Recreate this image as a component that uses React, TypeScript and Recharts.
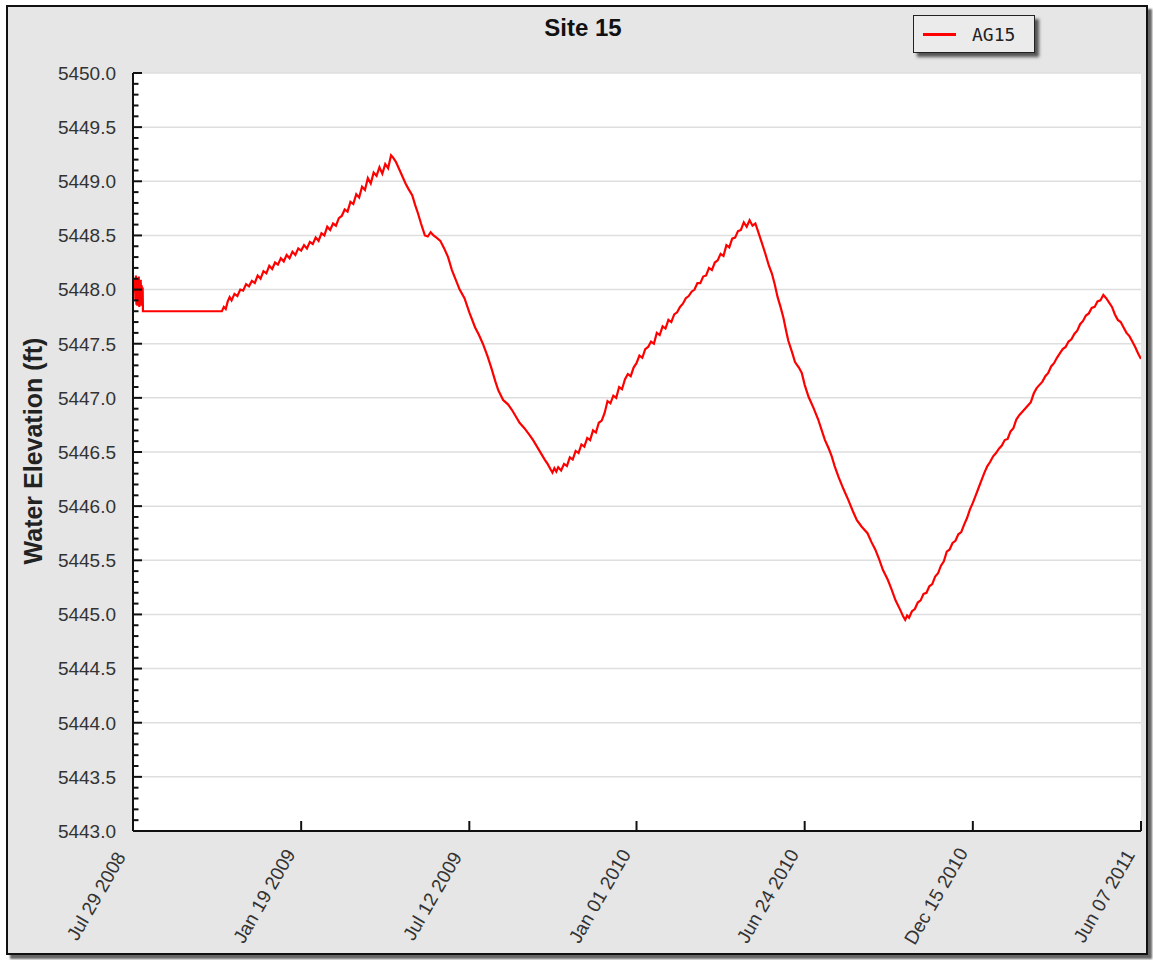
import React from "react";
import { LineChart, Line, XAxis, YAxis, CartesianGrid } from "recharts";

// Day offsets from Jul 29 2008 for the date ticks on the x axis
const tickDays = [0, 174, 348, 521, 695, 869, 1043];
const tickLabels = [
  "Jul 29 2008",
  "Jan 19 2009",
  "Jul 12 2009",
  "Jan 01 2010",
  "Jun 24 2010",
  "Dec 15 2010",
  "Jun 07 2011",
];

// Elevation axis: labelled every 0.5 ft, minor ticks every 0.1 ft
const majorLevels = [
  5443, 5443.5, 5444, 5444.5, 5445, 5445.5, 5446, 5446.5, 5447, 5447.5, 5448,
  5448.5, 5449, 5449.5, 5450,
];
const levelTicks = Array.from({ length: 71 }, (_, i) => Math.round((5443 + i * 0.1) * 10) / 10);

// AG15 logger readings: [days since Jul 29 2008, water elevation ft]
const startBurst: [number, number][] = [
  [0, 5448.03], [0.5, 5447.98], [1, 5448.05], [1.5, 5447.99], [2, 5448.1],
  [2.5, 5447.9], [3, 5448.13], [3.5, 5447.86], [4, 5448.11], [4.5, 5447.85],
  [5, 5448.08], [5.5, 5447.88], [6, 5448.12], [6.5, 5447.84], [7, 5448.06],
  [7.5, 5447.86], [8, 5448.09], [8.5, 5447.85], [9, 5448.04], [9.5, 5447.87],
  [10, 5448.02], [10.3, 5447.8], [92, 5447.8],
];

const rise2009: [number, number][] = [
  [94, 5447.84], [96, 5447.82], [98, 5447.89], [100, 5447.93], [102, 5447.9],
  [105, 5447.96], [108, 5447.94], [111, 5448.0], [114, 5447.99], [117, 5448.05],
  [120, 5448.03], [123, 5448.08], [126, 5448.06], [129, 5448.13], [132, 5448.1],
  [135, 5448.17], [138, 5448.15], [141, 5448.22], [144, 5448.19], [147, 5448.25],
  [150, 5448.23], [153, 5448.29], [156, 5448.26], [159, 5448.32], [162, 5448.29],
  [165, 5448.35], [168, 5448.32], [171, 5448.38], [174, 5448.36], [177, 5448.41],
  [180, 5448.38], [183, 5448.44], [186, 5448.42], [189, 5448.48], [192, 5448.45],
  [195, 5448.52], [198, 5448.5], [201, 5448.58], [204, 5448.55], [207, 5448.61],
  [210, 5448.59], [213, 5448.66], [216, 5448.68], [219, 5448.74], [222, 5448.72],
  [225, 5448.81], [228, 5448.79], [231, 5448.88], [234, 5448.85], [237, 5448.95],
  [240, 5448.92], [243, 5449.03], [246, 5448.98], [249, 5449.08], [252, 5449.05],
  [255, 5449.13], [258, 5449.07], [261, 5449.16], [264, 5449.12], [267, 5449.24],
  [269, 5449.22],
];

const fall2009: [number, number][] = [
  [272, 5449.18], [275, 5449.12], [278, 5449.06], [282, 5448.98], [285, 5448.93],
  [289, 5448.87], [292, 5448.78], [295, 5448.7], [298, 5448.61], [302, 5448.5],
  [305, 5448.49], [308, 5448.53], [311, 5448.5], [314, 5448.48], [318, 5448.45],
  [322, 5448.38], [326, 5448.3], [330, 5448.18], [334, 5448.09], [338, 5448.0],
  [343, 5447.92], [348, 5447.79], [354, 5447.65], [358, 5447.58], [362, 5447.5],
  [367, 5447.38], [371, 5447.27], [375, 5447.15], [378, 5447.07], [383, 5446.98],
  [388, 5446.94], [392, 5446.89], [396, 5446.83], [400, 5446.77], [405, 5446.72],
  [410, 5446.66], [414, 5446.61], [418, 5446.55], [422, 5446.49], [426, 5446.43],
  [429, 5446.39], [432, 5446.34], [434, 5446.31],
];

const rise2010: [number, number][] = [
  [436, 5446.35], [438, 5446.32], [440, 5446.36], [443, 5446.33], [446, 5446.39],
  [449, 5446.37], [452, 5446.45], [455, 5446.43], [458, 5446.51], [461, 5446.49],
  [464, 5446.57], [467, 5446.55], [470, 5446.63], [473, 5446.61], [476, 5446.7],
  [479, 5446.68], [482, 5446.77], [485, 5446.79], [488, 5446.86], [491, 5446.97],
  [494, 5446.95], [497, 5447.02], [500, 5447.0], [503, 5447.1], [506, 5447.08],
  [509, 5447.17], [512, 5447.22], [515, 5447.2], [518, 5447.28], [521, 5447.32],
  [524, 5447.39], [527, 5447.37], [530, 5447.45], [533, 5447.47], [536, 5447.52],
  [539, 5447.5], [542, 5447.6], [545, 5447.58], [548, 5447.66], [551, 5447.64],
  [554, 5447.72], [557, 5447.7], [560, 5447.77], [563, 5447.79], [566, 5447.84],
  [569, 5447.87], [572, 5447.92], [575, 5447.94], [578, 5447.98], [581, 5448.0],
  [584, 5448.06], [587, 5448.06], [590, 5448.12], [593, 5448.13], [596, 5448.2],
  [599, 5448.18], [602, 5448.25], [605, 5448.27], [608, 5448.33], [611, 5448.31],
  [614, 5448.41], [617, 5448.39], [620, 5448.47], [623, 5448.48], [626, 5448.54],
  [629, 5448.55], [632, 5448.62], [635, 5448.58], [638, 5448.64], [641, 5448.59],
  [644, 5448.61],
];

const fall2010: [number, number][] = [
  [647, 5448.53], [650, 5448.45], [654, 5448.34], [658, 5448.22], [661, 5448.15],
  [664, 5448.05], [667, 5447.93], [670, 5447.84], [673, 5447.74], [676, 5447.61],
  [678, 5447.53], [682, 5447.42], [685, 5447.33], [689, 5447.28], [692, 5447.23],
  [695, 5447.12], [699, 5447.01], [704, 5446.91], [709, 5446.8], [713, 5446.69],
  [716, 5446.61], [720, 5446.53], [723, 5446.46], [726, 5446.37], [730, 5446.27],
  [735, 5446.16], [740, 5446.06], [745, 5445.95], [749, 5445.87], [754, 5445.81],
  [760, 5445.75], [764, 5445.67], [768, 5445.6], [772, 5445.51], [776, 5445.41],
  [781, 5445.32], [785, 5445.23], [789, 5445.13], [794, 5445.04], [797, 5444.98],
  [799, 5444.95],
];

const rise2011: [number, number][] = [
  [801, 5444.99], [803, 5444.97], [806, 5445.03], [809, 5445.05], [812, 5445.11],
  [815, 5445.13], [818, 5445.19], [821, 5445.2], [824, 5445.26], [827, 5445.28],
  [830, 5445.35], [833, 5445.38], [836, 5445.45], [839, 5445.49], [842, 5445.58],
  [845, 5445.6], [848, 5445.66], [851, 5445.68], [854, 5445.74], [857, 5445.76],
  [860, 5445.83], [863, 5445.89], [866, 5445.97], [869, 5446.03], [872, 5446.1],
  [875, 5446.17], [878, 5446.24], [881, 5446.31], [884, 5446.37], [887, 5446.41],
  [890, 5446.46], [893, 5446.49], [896, 5446.53], [899, 5446.56], [902, 5446.61],
  [905, 5446.62], [908, 5446.69], [911, 5446.72], [914, 5446.8], [917, 5446.84],
  [920, 5446.87], [923, 5446.9], [926, 5446.93], [929, 5446.96], [932, 5447.04],
  [935, 5447.09], [938, 5447.12], [941, 5447.15], [944, 5447.2], [947, 5447.23],
  [950, 5447.29], [953, 5447.32], [956, 5447.37], [959, 5447.41], [962, 5447.45],
  [965, 5447.47], [968, 5447.52], [971, 5447.54], [974, 5447.59], [977, 5447.62],
  [980, 5447.68], [983, 5447.71], [986, 5447.76], [989, 5447.78], [992, 5447.83],
  [995, 5447.84], [998, 5447.89], [1001, 5447.9], [1004, 5447.95],
];

const fall2011: [number, number][] = [
  [1007, 5447.92], [1010, 5447.88], [1013, 5447.84], [1016, 5447.77], [1019, 5447.72],
  [1022, 5447.7], [1025, 5447.65], [1028, 5447.6], [1031, 5447.57], [1034, 5447.52],
  [1037, 5447.47], [1040, 5447.41], [1043, 5447.36],
];

const ag15Readings = [
  ...startBurst,
  ...rise2009,
  ...fall2009,
  ...rise2010,
  ...fall2010,
  ...rise2011,
  ...fall2011,
];

const data = ag15Readings.map(([day, level]) => ({ day, AG15: level }));

const FONT = '"Liberation Sans", Arial, sans-serif';
const Y_GAP = 17;
const X_GAP = 2;

const isMajor = (v: number) => Math.abs(v * 2 - Math.round(v * 2)) < 1e-6;

const ElevationTick = (props: any) => {
  const { x, y, payload } = props;
  const v = payload.value as number;
  const axisX = x + Y_GAP;
  const major = isMajor(v);
  return (
    <g>
      <line x1={axisX} x2={axisX + (major ? 9 : 5.5)} y1={y} y2={y} stroke="#111" strokeWidth={2} />
      {major && (
        <text x={x} y={y} dy="0.36em" textAnchor="end" fontFamily={FONT} fontSize={19} fill="#333">
          {v.toFixed(1)}
        </text>
      )}
    </g>
  );
};

const DateTick = (props: any) => {
  const { x, y, payload } = props;
  const axisY = y - X_GAP;
  const idx = tickDays.indexOf(payload.value);
  return (
    <g>
      <line x1={x} x2={x} y1={axisY} y2={axisY - 10} stroke="#111" strokeWidth={2} />
      <text
        transform={`translate(${x - 37},${axisY + 65}) rotate(-60)`}
        textAnchor="middle"
        dy="0.35em"
        fontFamily={FONT}
        fontSize={19}
        fill="#333"
      >
        {idx >= 0 ? tickLabels[idx] : ""}
      </text>
    </g>
  );
};

const LegendBox = () => (
  <div
    style={{
      position: "absolute",
      left: 913,
      top: 15,
      width: 122,
      height: 38,
      boxSizing: "border-box",
      border: "1.5px solid #222",
      background: "#ebebeb",
      boxShadow: "4px 4px 3px #555",
      display: "flex",
      alignItems: "center",
      fontFamily: '"DejaVu Sans Mono", monospace',
      fontSize: 18,
      color: "#222",
    }}
  >
    <div style={{ width: 33, height: 3, background: "#ff0000", marginLeft: 9 }} />
    <span style={{ marginLeft: 16 }}>AG15</span>
  </div>
);

export default function App() {
  return (
    <div style={{ position: "absolute", left: 0, top: 0, width: 1153, height: 960, overflow: "hidden" }}>
      <div
        style={{
          position: "absolute",
          left: 6,
          top: 5,
          width: 1142,
          height: 950,
          boxSizing: "border-box",
          border: "2px solid #111",
          background: "#e6e6e6",
          boxShadow: "4px 4px 2px #666",
        }}
      />
      <div
        style={{
          position: "absolute",
          left: 0,
          width: 1153,
          top: 14,
          textAlign: "center",
          paddingLeft: 13,
          boxSizing: "border-box",
          fontFamily: FONT,
          fontWeight: "bold",
          fontSize: 24,
          color: "#111",
        }}
      >
        Site 15
      </div>
      <div style={{ position: "absolute", left: 0, top: 0 }}>
        <LineChart width={1153} height={960} data={data} margin={{ top: 73, right: 12, bottom: 0, left: 0 }}>
          <CartesianGrid
            vertical={false}
            horizontalValues={majorLevels}
            stroke="#dedede"
            strokeWidth={1.5}
            fill="#ffffff"
          />
          <XAxis
            dataKey="day"
            type="number"
            domain={[0, 1043]}
            ticks={tickDays}
            interval={0}
            height={129}
            tickSize={0}
            tickMargin={X_GAP}
            tickLine={false}
            axisLine={{ stroke: "#111", strokeWidth: 2 }}
            tick={<DateTick />}
            allowDataOverflow
          />
          <YAxis
            type="number"
            domain={[5443, 5450]}
            ticks={levelTicks}
            interval={0}
            width={133}
            tickSize={0}
            tickMargin={Y_GAP}
            tickLine={false}
            axisLine={{ stroke: "#111", strokeWidth: 2 }}
            tick={<ElevationTick />}
            allowDataOverflow
            label={{
              content: () => (
                <text
                  transform="translate(42,451) rotate(-90)"
                  textAnchor="middle"
                  fontFamily={FONT}
                  fontWeight="bold"
                  fontSize={25}
                  fill="#222"
                >
                  Water Elevation (ft)
                </text>
              ),
            }}
          />
          <Line
            type="linear"
            dataKey="AG15"
            stroke="#ff0000"
            strokeWidth={2.2}
            dot={false}
            isAnimationActive={false}
          />
        </LineChart>
      </div>
      <LegendBox />
    </div>
  );
}
